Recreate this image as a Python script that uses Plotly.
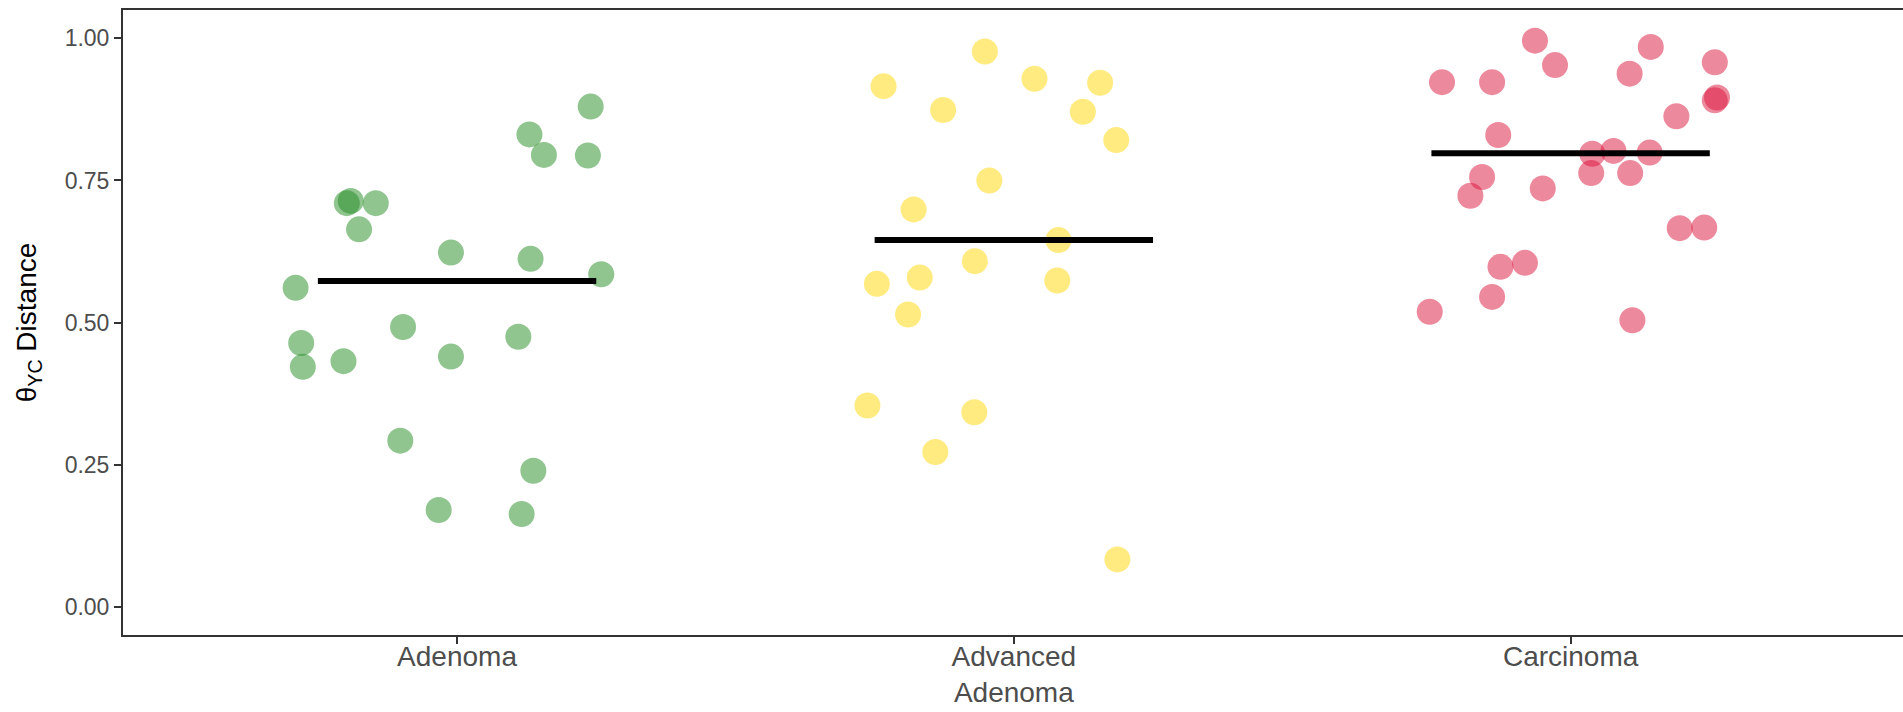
import numpy as np
import plotly.graph_objects as go

# Groups along the x axis
categories = ["Adenoma", "Advanced<br>Adenoma", "Carcinoma"]

# Per-sample theta_YC distance and horizontal jitter (offset from the group centre)
adenoma_jitter = [0.240, 0.130, 0.156, 0.235, -0.191, -0.198, -0.146, -0.176, -0.011, 0.132, 0.259,
                  -0.290, -0.097, -0.280, 0.110, -0.277, -0.204, -0.011, -0.102, 0.137, -0.033, 0.116]
adenoma_values = [0.880, 0.831, 0.795, 0.794, 0.714, 0.710, 0.710, 0.664, 0.623, 0.612, 0.585,
                  0.561, 0.492, 0.464, 0.475, 0.422, 0.432, 0.440, 0.292, 0.239, 0.170, 0.163]

advanced_jitter = [-0.052, -0.234, 0.037, 0.155, -0.127, 0.124, 0.184, -0.044, -0.180, 0.080,
                   -0.070, -0.246, -0.169, 0.078, -0.190, -0.263, -0.071, -0.141, 0.186]
advanced_values = [0.977, 0.916, 0.929, 0.922, 0.874, 0.871, 0.821, 0.750, 0.699, 0.645,
                   0.608, 0.568, 0.579, 0.574, 0.514, 0.354, 0.342, 0.272, 0.083]

carcinoma_jitter = [-0.064, 0.144, -0.028, 0.259, -0.231, -0.141, 0.106, 0.259, 0.263, 0.190,
                    -0.130, 0.039, 0.077, 0.142, 0.037, 0.107, -0.159, -0.180, -0.050, 0.196,
                    0.240, -0.126, -0.082, -0.141, -0.253, 0.111]
carcinoma_values = [0.996, 0.985, 0.953, 0.958, 0.923, 0.923, 0.938, 0.891, 0.896, 0.863,
                    0.830, 0.797, 0.802, 0.799, 0.763, 0.763, 0.756, 0.723, 0.736, 0.666,
                    0.667, 0.598, 0.605, 0.545, 0.519, 0.504]

y_ticks = [0.0, 0.25, 0.5, 0.75, 1.0]

groups = [
    (adenoma_jitter, adenoma_values, "rgba(34,139,34,0.5)"),     # forestgreen
    (advanced_jitter, advanced_values, "rgba(255,215,0,0.5)"),   # gold
    (carcinoma_jitter, carcinoma_values, "rgba(220,20,60,0.5)"),  # crimson
]

AXIS_COLOR = "#333333"
fig = go.Figure()

# jittered points
for pos, (jit, vals, col) in enumerate(groups, start=1):
    fig.add_trace(go.Scatter(
        x=[pos + j for j in jit], y=vals, mode="markers",
        marker=dict(size=26, color=col, line=dict(width=0)),
        showlegend=False, hoverinfo="y",
    ))

# median bars drawn on top of the points
for pos, (jit, vals, col) in enumerate(groups, start=1):
    med = float(np.median(vals))
    fig.add_trace(go.Scatter(
        x=[pos - 0.25, pos + 0.25], y=[med, med], mode="lines",
        line=dict(color="black", width=6),
        showlegend=False, hoverinfo="y",
    ))

fig.update_layout(
    width=1903, height=712,
    margin=dict(l=123, r=0, t=10, b=77),
    paper_bgcolor="white", plot_bgcolor="white",
    font=dict(family="Liberation Sans, Arial, sans-serif", color="#4D4D4D"),
)

fig.update_xaxes(
    range=[0.4, 3.597], automargin=False,
    tickmode="array", tickvals=[1, 2, 3], ticktext=categories,
    tickfont=dict(size=28, color="#4D4D4D"), ticklabelstandoff=-12,
    ticks="outside", ticklen=7, tickwidth=2, tickcolor=AXIS_COLOR,
    showline=True, linecolor=AXIS_COLOR, linewidth=2, mirror=True,
    showgrid=False, zeroline=False,
)

fig.update_yaxes(
    range=[-0.05, 1.05], automargin=False,
    tickmode="array", tickvals=y_ticks, tickformat=".2f",
    tickfont=dict(size=23, color="#4D4D4D"),
    ticks="outside", ticklen=7, tickwidth=2, tickcolor=AXIS_COLOR,
    showline=True, linecolor=AXIS_COLOR, linewidth=2,
    showgrid=False, zeroline=False,
    title=dict(text="θ<sub>YC</sub> Distance", font=dict(size=28, color="black"), standoff=20),
)

fig.write_html("out.html")
